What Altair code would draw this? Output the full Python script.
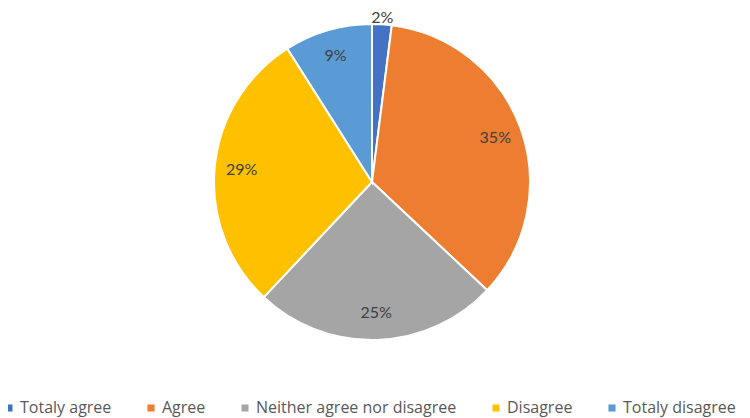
import altair as alt
import pandas as pd

categories = ["Totaly agree", "Agree", "Neither agree nor disagree", "Disagree", "Totaly disagree"]
values = [2, 35, 25, 29, 9]
labels = ["2%", "35%", "25%", "29%", "9%"]
colors = ["#4472C4", "#ED7D31", "#A5A5A5", "#FFC000", "#5B9BD5"]

df = pd.DataFrame({
    "category": categories,
    "value": values,
    "label": labels,
    "order": list(range(len(categories))),
})

CX, CY = 364, 174
FONT = "Lato"
LEGEND_FONT = "Open Sans"

base = alt.Chart(df).encode(
    theta=alt.Theta("value:Q", stack=True),
    order=alt.Order("order:Q"),
)

pie = base.mark_arc(outerRadius=158, stroke="white", strokeWidth=2, x=CX, y=CY).encode(
    color=alt.Color(
        "category:N",
        sort=categories,
        scale=alt.Scale(domain=categories, range=colors),
        legend=alt.Legend(
            title=None,
            orient="none",
            legendX=-7,
            legendY=392,
            direction="horizontal",
            columns=5,
            symbolType="square",
            symbolSize=50,
            symbolStrokeWidth=0,
            labelFont=LEGEND_FONT,
            labelFontSize=16,
            labelColor="#595959",
            labelOffset=3,
            labelLimit=400,
            columnPadding=31,
            padding=0,
        ),
    )
)

inner = base.transform_calculate(
    lab="datum.value > 5 ? datum.label : ''"
).mark_text(radius=131, font=FONT, fontSize=16, color="#404040", x=CX, y=CY).encode(
    text="lab:N"
)

outer = base.transform_calculate(
    lab="datum.value <= 5 ? datum.label : ''"
).mark_text(radius=164, font=FONT, fontSize=16, color="#404040", x=CX, y=CY).encode(
    text="lab:N"
)

chart = alt.layer(pie, inner, outer).properties(
    width=734, height=410, padding=0,
    autosize=alt.AutoSizeParams(type="none"),
).configure_view(stroke=None)

chart.save("out.html", embed_options={"renderer": "svg", "actions": False})
